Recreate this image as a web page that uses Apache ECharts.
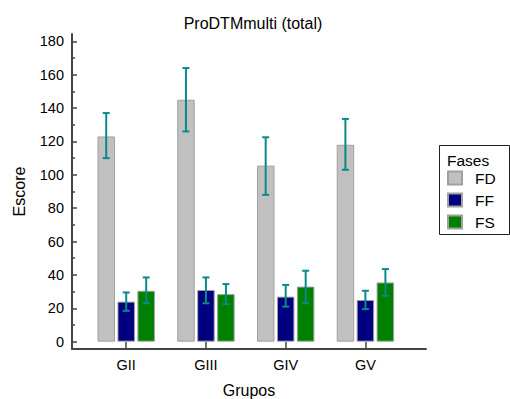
<!DOCTYPE html>
<html>
<head>
    <meta charset="utf-8">
    <title>ProDTMmulti (total)</title>
    <script src="https://cdn.jsdelivr.net/npm/echarts@6/dist/echarts.min.js"></script>
    <style>
        body { margin: 0; background: #fff; }
    </style>
</head>
<body>
    <div id="main" style="width: 510px;height:399px;"></div>

    <script type="text/javascript">
        // groups and phases
        var categories = ['GII', 'GIII', 'GIV', 'GV'];
        var phases = ['FD', 'FF', 'FS'];

        // mean scores per phase
        var fdValues = [123, 145, 105.5, 118];
        var ffValues = [24, 31, 27, 25];
        var fsValues = [30.5, 28.5, 33, 35.5];

        // error bar ends (low / high)
        var fdLow = [110, 126, 88, 103];
        var fdHigh = [137, 164, 122.5, 133.5];
        var ffLow = [18.5, 23, 21, 19.5];
        var ffHigh = [29.5, 38.5, 34, 30.5];
        var fsLow = [23, 22.5, 23, 27.5];
        var fsHigh = [38.5, 34.5, 42.5, 43.5];

        // tick labels
        var yTicks = [0, 20, 40, 60, 80, 100, 120, 140, 160, 180];
        var yMinorTicks = [10, 30, 50, 70, 90, 110, 130, 150, 170];

        var font = "'Liberation Sans', Arial, sans-serif";
        var colors = ['#c0c0c0', '#000080', '#008000'];
        var barW = 17.5;
        var step = 20; // centre to centre distance of bars in a group

        var myChart = echarts.init(document.getElementById('main'), null, { renderer: 'svg' });

        function barData(vals) {
            return vals.map(function (v, i) { return [i, v]; });
        }

        function errData(low, high) {
            return low.map(function (l, i) { return [i, l, high[i]]; });
        }

        // draws a vertical error bar with caps, shifted to sit on its bar
        function errRenderer(shift) {
            return function (params, api) {
                var x = api.value(0);
                var lo = api.coord([x, api.value(1)]);
                var hi = api.coord([x, api.value(2)]);
                var cx = lo[0] + shift;
                var cap = 3.5;
                var st = { stroke: '#0a8a8a', lineWidth: 2 };
                return {
                    type: 'group',
                    children: [
                        { type: 'line', shape: { x1: cx, y1: hi[1], x2: cx, y2: lo[1] }, style: st },
                        { type: 'line', shape: { x1: cx - cap, y1: hi[1], x2: cx + cap, y2: hi[1] }, style: st },
                        { type: 'line', shape: { x1: cx - cap, y1: lo[1], x2: cx + cap, y2: lo[1] }, style: st }
                    ]
                };
            };
        }

        var barSeries = [fdValues, ffValues, fsValues].map(function (vals, k) {
            return {
                name: phases[k],
                type: 'bar',
                barWidth: barW,
                barGap: '14%',
                data: barData(vals),
                itemStyle: {
                    color: colors[k],
                    borderColor: '#a0a0a0',
                    borderWidth: 1
                }
            };
        });

        var errSeries = [[fdLow, fdHigh], [ffLow, ffHigh], [fsLow, fsHigh]].map(function (e, k) {
            return {
                name: phases[k] + ' err',
                type: 'custom',
                renderItem: errRenderer((k - 1) * step),
                data: errData(e[0], e[1]),
                z: 10,
                silent: true
            };
        });

        var option = {
            animation: false,
            textStyle: { fontFamily: font },
            title: {
                text: 'ProDTMmulti (total)',
                left: 248,
                textAlign: 'center',
                top: 10,
                textStyle: { fontFamily: font, fontSize: 16, fontWeight: 'normal', color: '#000' }
            },
            legend: {
                data: phases,
                orient: 'vertical',
                left: 447,
                top: 167,
                padding: 0,
                itemGap: 0,
                itemWidth: 14,
                itemHeight: 13,
                icon: 'rect',
                textStyle: { fontFamily: font, fontSize: 15.5, color: '#000', lineHeight: 22, padding: [0, 0, 0, 8] }
            },
            graphic: [
                {
                    type: 'rect',
                    shape: { x: 439.5, y: 145.5, width: 70, height: 89 },
                    style: { fill: 'none', stroke: '#222', lineWidth: 1 }
                },
                {
                    type: 'text',
                    x: 447,
                    y: 152,
                    style: { text: 'Fases', font: '15.5px ' + font, fill: '#000' }
                }
            ],
            grid: {
                left: 72,
                right: 84,
                top: 34,
                bottom: 50,
                outerBoundsMode: 'none'
            },
            xAxis: {
                type: 'value',
                min: -0.68,
                max: 3.76,
                name: 'Grupos',
                nameLocation: 'middle',
                nameGap: 33,
                nameTextStyle: { fontFamily: font, fontSize: 16, color: '#000' },
                splitLine: { show: false },
                axisLine: { onZero: false, lineStyle: { color: '#444', width: 2 } },
                axisTick: {
                    inside: true,
                    length: 7,
                    customValues: [0, 1, 2, 3],
                    lineStyle: { color: '#444', width: 1.5 }
                },
                axisLabel: {
                    customValues: [0, 1, 2, 3],
                    margin: 8,
                    fontFamily: font,
                    fontSize: 14.5,
                    color: '#000',
                    formatter: function (v) { return categories[Math.round(v)]; }
                }
            },
            yAxis: [
                {
                    type: 'value',
                    min: -4.4,
                    max: 184.4,
                    name: 'Escore',
                    nameLocation: 'middle',
                    nameGap: 45,
                    nameTextStyle: { fontFamily: font, fontSize: 16, color: '#000' },
                    splitLine: { show: false },
                    axisLine: { show: true, onZero: false, lineStyle: { color: '#444', width: 2 } },
                    axisTick: {
                        inside: true,
                        length: 5,
                        customValues: yTicks,
                        lineStyle: { color: '#444', width: 1.5 }
                    },
                    axisLabel: {
                        customValues: yTicks,
                        margin: 8,
                        fontFamily: font,
                        fontSize: 14.5,
                        color: '#000'
                    }
                },
                {
                    type: 'value',
                    min: -4.4,
                    max: 184.4,
                    position: 'left',
                    splitLine: { show: false },
                    axisLine: { show: false, onZero: false },
                    axisTick: {
                        inside: true,
                        length: 3,
                        customValues: yMinorTicks,
                        lineStyle: { color: '#444', width: 1.5 }
                    },
                    axisLabel: { show: false }
                }
            ],
            series: barSeries.concat(errSeries)
        };

        myChart.setOption(option);
    </script>
</body>
</html>
